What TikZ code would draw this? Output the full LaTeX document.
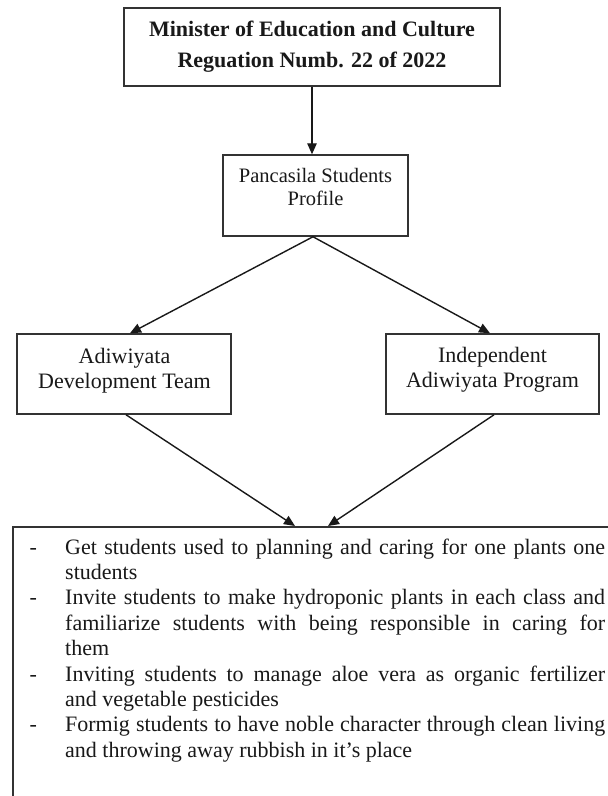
\documentclass[tikz,border=0pt]{standalone}
\usepackage{fontspec}
\setmainfont{Liberation Serif}
\usetikzlibrary{arrows.meta}
\begin{document}
\begin{tikzpicture}[x=1pt,y=-1pt,
  box/.style={draw=black!80, line width=1.5pt, inner sep=0pt, rectangle},
  txt/.style={inner sep=0pt, align=center, text=black!90},
  arr/.style={draw=black!90, line width=1.4pt, -{Triangle[length=11pt,width=9.5pt]}},
]
\fill[white] (0,0) rectangle (608,796);
\useasboundingbox (0,0) rectangle (608,796);
\begin{scope}
\clip (0,0) rectangle (608,796);
\node[box, minimum width=376pt, minimum height=78pt, align=center, text=black!90,
      font=\fontsize{22}{31}\selectfont\bfseries] (top) at (312,47)
  {Minister of Education and Culture\\Reguation Numb. 22 of 2022};
\node[box, minimum width=185pt, minimum height=81pt] (pan) at (315.5,195.5) {};
\node[txt, anchor=north, font=\fontsize{20.5}{23}\selectfont] (pantxt) at (315.5,165.9)
  {\strut Pancasila Students\\Profile};
\node[box, minimum width=214pt, minimum height=80pt] (ld) at (124,374) {};
\node[txt, anchor=north, font=\fontsize{22}{25}\selectfont] (ldtxt) at (124.5,345.5)
  {\strut Adiwiyata\\Development Team};
\node[box, minimum width=213pt, minimum height=80pt] (rd) at (492.5,374) {};
\node[txt, anchor=north, font=\fontsize{22}{25}\selectfont] (rdtxt) at (492.5,344.5)
  {\strut Independent\\Adiwiyata Program};
\node[box, anchor=north west, minimum width=640pt, minimum height=320pt] (res) at (12,526) {};
\node[anchor=north west, inner sep=0pt, text width=575.5pt, align=justify, text=black!90,
      font=\fontsize{22}{25.4}\selectfont] (list) at (29.5,536.2)
  {\hyphenpenalty=10000\exhyphenpenalty=10000
   \hangindent=35.5pt\hangafter=1\noindent\makebox[35.5pt][l]{-}\strut Get students used to planning and caring for one plants one\linebreak students\par
   \hangindent=35.5pt\hangafter=1\noindent\makebox[35.5pt][l]{-}Invite students to make hydroponic plants in each class and\linebreak familiarize students with being responsible in caring for\linebreak them\par
   \hangindent=35.5pt\hangafter=1\noindent\makebox[35.5pt][l]{-}Inviting students to manage aloe vera as organic fertilizer\linebreak and vegetable pesticides\par
   \hangindent=35.5pt\hangafter=1\noindent\makebox[35.5pt][l]{-}Formig students to have noble character through clean living\linebreak and throwing away rubbish in it’s place\par};
\end{scope}
\draw[arr] (top.south) -- (top.south |- pan.north);
\draw[arr] ([xshift=-2.5pt]pan.south) -- ([xshift=6pt]ld.north);
\draw[arr] ([xshift=-2.5pt]pan.south) -- ([xshift=-2.5pt]rd.north);
\draw[arr] ([xshift=2pt]ld.south) -- ([xshift=283pt]res.north west);
\draw[arr] ([xshift=1.5pt]rd.south) -- ([xshift=316pt]res.north west);
\end{tikzpicture}
\end{document}
